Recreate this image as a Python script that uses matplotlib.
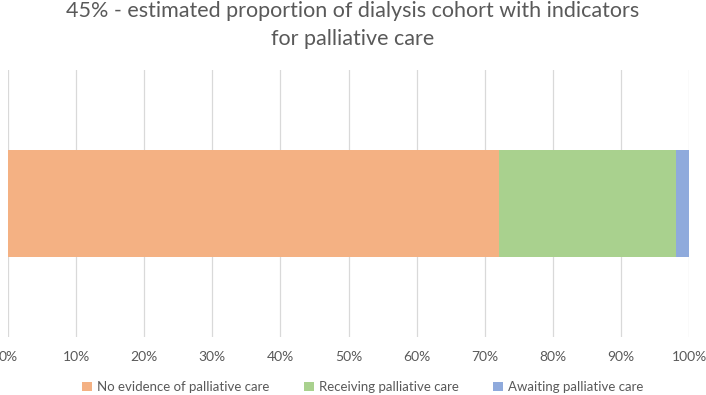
import matplotlib.pyplot as plt
from matplotlib.ticker import PercentFormatter

# -------------------------
# DATA
# -------------------------

categories = ["Dialysis cohort"]
series_names = ["No evidence of palliative care", "Receiving palliative care", "Awaiting palliative care"]
series_values = [72, 26, 2]
colors = ["#f4b183", "#a9d18e", "#8faadc"]
title_lines = ["45% - estimated proportion of dialysis cohort with indicators",
               "for palliative care"]

plt.rcParams['font.family'] = ['Lato', 'DejaVu Sans']
grey = "#595959"

# -------------------------
# CREATE GRAPH
# -------------------------

fig = plt.figure(figsize=(7.06, 3.95), dpi=100)
ax = fig.add_axes([0.0113, 0.147, 0.965, 0.676])

left = 0
for name, val, col in zip(series_names, series_values, colors):
    ax.barh(categories, [val], left=left, height=0.4, color=col, label=name, zorder=3)
    left += val

ax.set_xlim(0, 100)
ax.set_ylim(-0.5, 0.5)
ax.set_xticks(range(0, 101, 10))
ax.xaxis.set_major_formatter(PercentFormatter(decimals=0))
ax.set_yticks([])
ax.grid(axis='x', color="#d9d9d9", linewidth=0.9, zorder=0)
for s in ax.spines.values():
    s.set_visible(False)
ax.tick_params(axis='x', length=0, pad=10, labelsize=10, labelcolor=grey)

# title, two lines
fig.text(0.5, 1 - 17 / 395, title_lines[0], ha='center', va='baseline', fontsize=15.5, color=grey)
fig.text(0.5, 1 - 45 / 395, title_lines[1], ha='center', va='baseline', fontsize=15.5, color=grey)

fig.legend(loc='center', bbox_to_anchor=(0.514, 1 - 387 / 395), ncol=3, frameon=False,
           fontsize=9.5, labelcolor=grey, handlelength=0.75, handleheight=0.75,
           handletextpad=0.4, columnspacing=2.6)

plt.savefig("out.png", dpi=100)
